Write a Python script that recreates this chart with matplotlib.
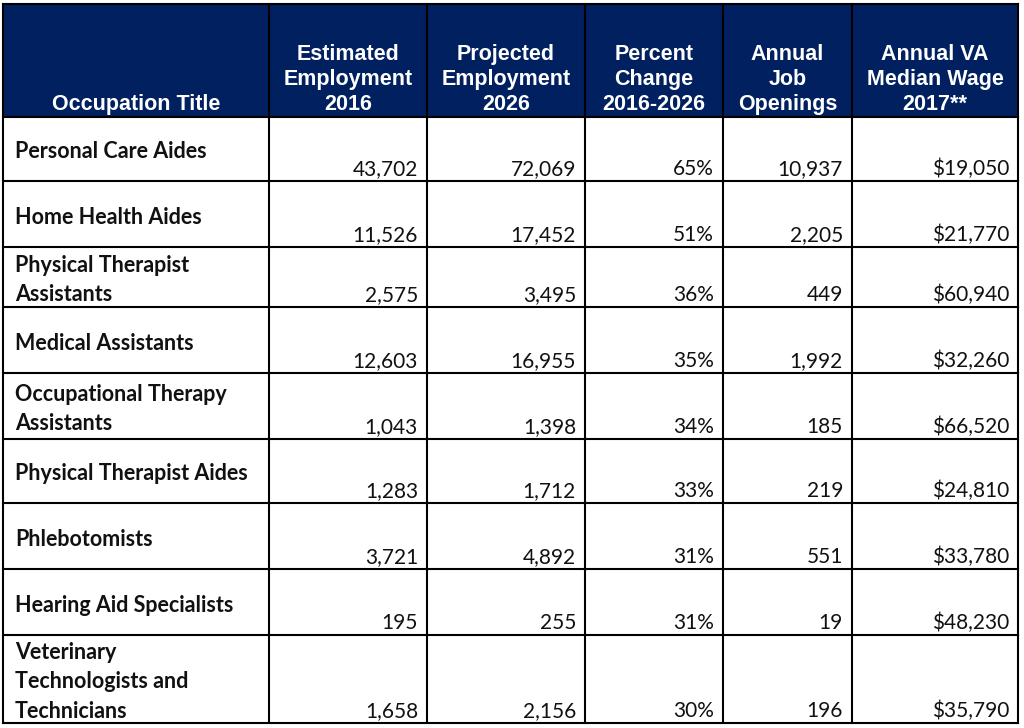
import matplotlib
matplotlib.use("Agg")
import matplotlib.pyplot as plt
from matplotlib.patches import Rectangle

# ---- data ----
headers = ["Occupation Title", "Estimated\nEmployment\n2016", "Projected\nEmployment\n2026",
           "Percent\nChange\n2016-2026", "Annual\nJob\nOpenings", "Annual VA\nMedian Wage\n2017**"]
occupations = ["Personal Care Aides", "Home Health Aides", "Physical Therapist\nAssistants",
               "Medical Assistants", "Occupational Therapy\nAssistants", "Physical Therapist Aides",
               "Phlebotomists", "Hearing Aid Specialists",
               "Veterinary\nTechnologists and\nTechnicians"]
est_2016 = [43702, 11526, 2575, 12603, 1043, 1283, 3721, 195, 1658]
proj_2026 = [72069, 17452, 3495, 16955, 1398, 1712, 4892, 255, 2156]
pct_change = [65, 51, 36, 35, 34, 33, 31, 31, 30]
openings = [10937, 2205, 449, 1992, 185, 219, 551, 19, 196]
wage = [19050, 21770, 60940, 32260, 66520, 24810, 33780, 48230, 35790]

# ---- layout (pixels) ----
col_edges = [3, 269, 427, 585, 723, 852, 1018]
row_edges = [4, 117, 181, 247, 307, 373, 439, 503, 569, 635, 723]
navy = "#002060"
body_font = ["Lato", "DejaVu Sans"]
head_font = ["Liberation Sans", "DejaVu Sans"]

fig = plt.figure(figsize=(10.24, 7.28), dpi=100)
ax = fig.add_axes([0, 0, 1, 1])
ax.set_xlim(0, 1024)
ax.set_ylim(728, 0)
ax.axis("off")

# header background
ax.add_patch(Rectangle((col_edges[0], row_edges[0]), col_edges[-1] - col_edges[0],
                       row_edges[1] - row_edges[0], facecolor=navy, edgecolor="none", zorder=1))

# header text
for j, h in enumerate(headers):
    xc = (col_edges[j] + col_edges[j + 1]) / 2
    ax.text(xc, row_edges[1] - 2, h, ha="center", va="bottom", color="white",
            fontsize=15.5, fontweight="bold", family=head_font, linespacing=1.25, zorder=3)

# body
rows = list(zip(occupations, est_2016, proj_2026, pct_change, openings, wage))
for i, (name, e, p, pc, o, w) in enumerate(rows):
    top, bot = row_edges[i + 1], row_edges[i + 2]
    ax.text(col_edges[0] + 12, (top + bot) / 2 + 3, name, ha="left", va="center",
            fontsize=15.5, fontweight="bold", family=body_font, linespacing=1.5,
            color="#111111", zorder=3)
    vals = [f"{e:,}", f"{p:,}", f"{pc}%", f"{o:,}", f"${w:,}"]
    for j, v in enumerate(vals):
        ax.text(col_edges[j + 2] - 9, bot - 6, v, ha="right", va="baseline",
                fontsize=15, family=body_font, color="#111111", zorder=3)

# grid lines
for x in col_edges:
    ax.plot([x, x], [row_edges[0], row_edges[-1]], color="black", lw=1.5, zorder=4,
            solid_capstyle="projecting")
for y in row_edges:
    ax.plot([col_edges[0], col_edges[-1]], [y, y], color="black", lw=1.5, zorder=4,
            solid_capstyle="projecting")

fig.savefig("out.png", dpi=100, facecolor="white")
